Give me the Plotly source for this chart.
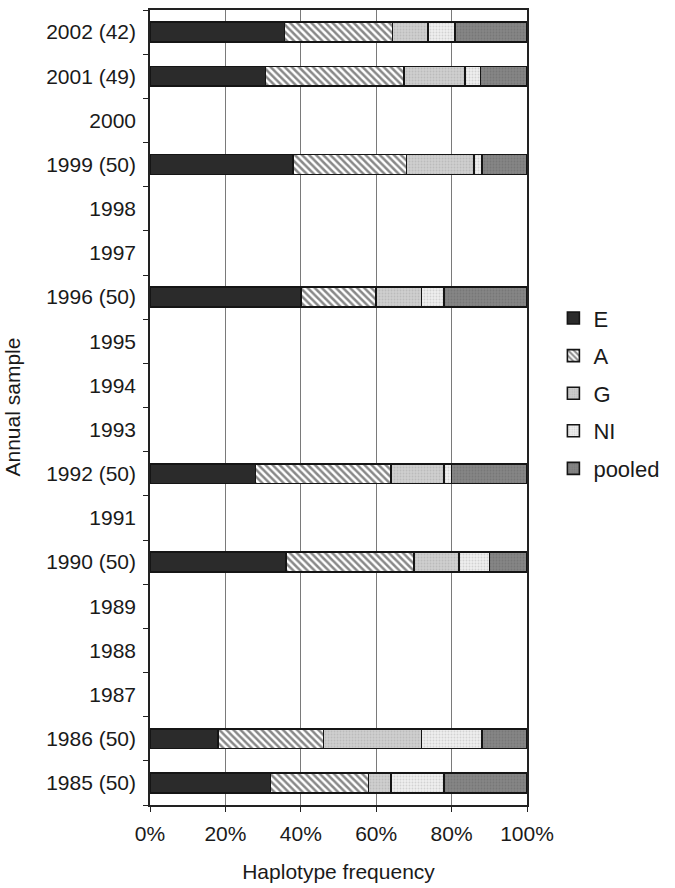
import plotly.graph_objects as go

years = ["1985 (50)", "1986 (50)", "1987", "1988", "1989", "1990 (50)", "1991",
         "1992 (50)", "1993", "1994", "1995", "1996 (50)", "1997", "1998",
         "1999 (50)", "2000", "2001 (49)", "2002 (42)"]

E      = [32, 18, None, None, None, 36, None, 28, None, None, None, 40, None, None, 38, None, 30.6, 35.7]
A      = [26, 28, None, None, None, 34, None, 36, None, None, None, 20, None, None, 30, None, 36.7, 28.6]
G      = [6, 26, None, None, None, 12, None, 14, None, None, None, 12, None, None, 18, None, 16.3, 9.5]
NI     = [14, 16, None, None, None, 8, None, 2, None, None, None, 6, None, None, 2, None, 4.1, 7.1]
pooled = [22, 12, None, None, None, 10, None, 20, None, None, None, 22, None, None, 12, None, 12.2, 19.0]

series = [
    ("E", E, dict(color="#2b2b2b")),
    ("A", A, dict(color="white", pattern=dict(shape="\\", fgcolor="#111111", bgcolor="white", size=5, solidity=0.5))),
    ("G", G, dict(color="#c9c9c9", pattern=dict(shape=".", fgcolor="#a8a8a8", bgcolor="#cfcfcf", size=3, solidity=0.3))),
    ("NI", NI, dict(color="#ececec", pattern=dict(shape=".", fgcolor="#b5b5b5", bgcolor="#eeeeee", size=3, solidity=0.3))),
    ("pooled", pooled, dict(color="#7e7e7e", pattern=dict(shape=".", fgcolor="#6a6a6a", bgcolor="#858585", size=3, solidity=0.3))),
]

fig = go.Figure()
for name, vals, marker in series:
    marker = dict(marker)
    marker["line"] = dict(color="#151515", width=1.6)
    fig.add_trace(go.Bar(
        y=years, x=vals, name=name, orientation="h", marker=marker,
        legendgroup=name,
    ))

font = "Liberation Sans"
fig.update_layout(
    width=675, height=888,
    margin=dict(l=150, r=148, t=8, b=83),
    barmode="stack",
    bargap=0.55,
    paper_bgcolor="white",
    plot_bgcolor="white",
    font=dict(family=font, size=21, color="#1a1a1a"),
    legend=dict(
        x=1.07, y=0.518, xanchor="left", yanchor="middle",
        traceorder="grouped", tracegroupgap=6,
        font=dict(size=22, family=font), itemwidth=30,
    ),
    xaxis=dict(
        range=[0, 100], tickvals=[0, 20, 40, 60, 80, 100],
        ticktext=["0%", "20%", "40%", "60%", "80%", "100%"],
        showgrid=True, gridcolor="#7a7a7a", gridwidth=1,
        showline=True, linecolor="#222", linewidth=1.5, mirror=True,
        ticks="outside", ticklen=5, tickcolor="#222",
        zeroline=False, ticklabelstandoff=4,
        title=dict(text="Haplotype frequency", standoff=20, font=dict(size=21, family=font)),
    ),
    yaxis=dict(
        type="category", categoryorder="array", categoryarray=years,
        showline=True, linecolor="#222", linewidth=1.5, mirror=True,
        ticks="outside", ticklen=5, tickcolor="#222", tickson="boundaries",
        showgrid=False,
        ticklabelstandoff=8,
    ),
    annotations=[dict(
        text="Annual sample", textangle=-90, showarrow=False,
        xref="paper", yref="paper", x=-0.366, y=0.5,
        xanchor="center", yanchor="middle",
        font=dict(size=21, family=font),
    )],
)

fig.write_html("out.html")
